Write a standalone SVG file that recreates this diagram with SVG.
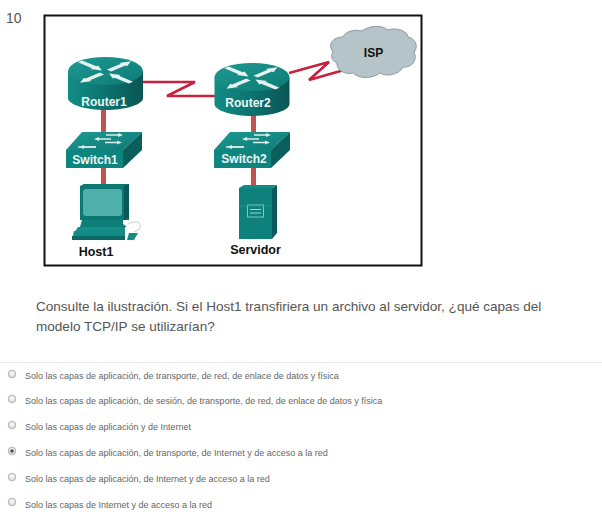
<svg xmlns="http://www.w3.org/2000/svg" width="602" height="526" viewBox="0 0 602 526">
<defs>
<linearGradient id="side" x1="0" x2="1" y1="0" y2="0"><stop offset="0" stop-color="#128d86"/><stop offset=".5" stop-color="#0c726e"/><stop offset="1" stop-color="#0a5654"/></linearGradient>
<linearGradient id="top" x1="0" x2="1" y1="0" y2="1"><stop offset="0" stop-color="#1c9a92"/><stop offset="1" stop-color="#0f7a75"/></linearGradient>
<radialGradient id="rad" cx=".5" cy=".4" r=".6"><stop offset="0" stop-color="#fff"/><stop offset="1" stop-color="#d0d0d0"/></radialGradient>
<path id="out" d="M5 -3H25V-5.500L36 0L25 5.500V3H5Z" fill="#e6f2f0"/>
<path id="in" d="M36 -3H16V-5.500L5 0L16 5.500V3H36Z" fill="#e6f2f0"/>
<path id="sa" d="M0 -.8H12V-2L17 0L12 2V.8H0Z" fill="#dcecea"/>
<g id="routerShape">
<path d="M-37.500 0V27C-37.500 33.500 -20 39 0 39S37.500 33.500 37.500 27V0Z" fill="url(#side)"/>
<ellipse cx="0" cy="0" rx="37.500" ry="14" fill="url(#top)"/>
<g transform="translate(0,1) scale(1,.42)">
<use href="#in" transform="rotate(225)"/>
<use href="#out" transform="rotate(315)"/>
<use href="#out" transform="rotate(135)"/>
<use href="#in" transform="rotate(45)"/>
</g></g>
<g id="switchShape">
<path d="M0 0 L16 -18 H76 L57 0Z" fill="url(#top)"/>
<path d="M57 0 L76 -18 V0 L57 18Z" fill="#0a5f5c"/>
<rect x="0" y="0" width="57" height="18" fill="#0f8580"/>
<use href="#sa" transform="translate(40,-15)"/>
<use href="#sa" transform="translate(45,-11) scale(-1,1)"/>
<use href="#sa" transform="translate(39,-7.500)"/>
<use href="#sa" transform="translate(30,-3) scale(-1,1)"/>
<path d="M12 -3H30" stroke="#dcecea" stroke-width="1.400"/>
</g>
</defs>
<style>
.lbl{font-family:"Liberation Sans",Arial,sans-serif;font-weight:700}
.w{fill:#eef7f6;font-size:12px;text-anchor:middle}
.k{fill:#111;font-size:12.500px;text-anchor:middle}
.opt{font-family:"Liberation Sans",Arial,sans-serif;font-size:9px;fill:#666}
.q{font-family:"Liberation Sans",Arial,sans-serif;font-size:13.550px;fill:#555}
.link{stroke:#bd5450;stroke-width:5;fill:none}
.wan{stroke:#c8203f;stroke-width:2.600;fill:none;stroke-linejoin:miter}
.rb{fill:url(#rad);stroke:#b5b5b5;stroke-width:1}
</style>
<rect width="602" height="526" fill="#fff"/>
<text x="6" y="23" font-family="'Liberation Sans',Arial,sans-serif" font-size="14" fill="#555">10</text>
<rect id="frame" x="44.500" y="15.500" width="377" height="250" fill="#fff" stroke="#111" stroke-width="2"/>
<g id="connectors">
<path class="link" d="M103.500 108V140M253.500 112V140M103.500 165V185M253.500 165V186"/>
<path class="wan" d="M143 82H195L167 96H215"/>
<path class="wan" d="M289 73L329 62L309 80L344 70"/>
</g>
<g id="router1"><use href="#routerShape" x="105.500" y="71"/><text class="lbl w" x="104" y="106">Router1</text></g>
<g id="router2"><use href="#routerShape" x="252" y="77"/><text class="lbl w" x="248" y="107">Router2</text></g>
<g id="isp"><path d="M333 52C327 44 333 37 343 37C345 31 356 29 362 31C370 25 382 25 388 30C396 27 408 31 408 37C417 39 418 48 414 52C418 60 412 68 403 67C399 75 386 77 380 73C372 79 359 79 353 73C345 75 336 70 337 63C332 61 330 56 333 52Z" fill="#b5c4c8" stroke="#8e9ea3"/><text class="lbl" x="373.500" y="56.500" font-size="12" fill="#111" text-anchor="middle">ISP</text></g>
<g id="switch1"><use href="#switchShape" x="66" y="150"/><text class="lbl w" x="95" y="163.500">Switch1</text></g>
<g id="switch2"><use href="#switchShape" x="214" y="150"/><text class="lbl w" x="244" y="162.500">Switch2</text></g>
<g id="host1">
<path d="M80 186L84 184H129V220H80Z" fill="#0c7773"/>
<path d="M124 186L129 184V218L124 220Z" fill="#085a58"/>
<rect x="83" y="189" width="39" height="27" rx="3" fill="#4fb0aa"/>
<path d="M82 220H123V224L127 227H80Z" fill="#0e7e79"/>
<path d="M78 227H125L125 233H74Z" fill="#149089"/>
<path d="M74 231H125L125 240H72Z" fill="#138a84"/>
<path d="M72 236H125V240H72Z" fill="#0b6a66"/>
<path d="M128 224C136 220 142 222 140 228C139 231 135 231 134 232" fill="none" stroke="#c6cfce" stroke-width="1"/>
<path d="M129 233H138L134 240H127Z" fill="#138a84"/>
<text class="lbl k" x="96" y="256">Host1</text>
</g>
<g id="servidor">
<path d="M239 188H272V239H239Z" fill="#0e817c"/>
<path d="M272 188L277 185V233L272 239Z" fill="#085a58"/>
<path d="M239 188L244 185H277L272 188Z" fill="#118c85"/>
<rect x="247.500" y="205" width="16" height="12" fill="none" stroke="#7fc8c2"/>
<path d="M250 209.500H261M250 213H261" stroke="#a0d8d2"/>
<path d="M239 206H272" stroke="#2a9a93" stroke-width=".7"/>
<text class="lbl k" x="255.500" y="254">Servidor</text>
</g>
<text class="q" x="36" y="311">Consulte la ilustración. Si el Host1 transfiriera un archivo al servidor, ¿qué capas del</text>
<text class="q" x="36" y="331">modelo TCP/IP se utilizarían?</text>
<path d="M0 362.500H602" stroke="#e8e8e8"/>
<g id="options">
<circle class="rb" cx="12" cy="374" r="3.800"/>
<circle class="rb" cx="12" cy="399" r="3.800"/>
<circle class="rb" cx="12" cy="425" r="3.800"/>
<circle class="rb" cx="12" cy="451" r="3.800"/><circle cx="12" cy="451" r="1.800" fill="#555"/>
<circle class="rb" cx="12" cy="477" r="3.800"/>
<circle class="rb" cx="12" cy="502" r="3.800"/>
<text class="opt" x="25" y="379">Solo las capas de aplicación, de transporte, de red, de enlace de datos y física</text>
<text class="opt" x="25" y="404">Solo las capas de aplicación, de sesión, de transporte, de red, de enlace de datos y física</text>
<text class="opt" x="25" y="430">Solo las capas de aplicación y de Internet</text>
<text class="opt" x="25" y="456">Solo las capas de aplicación, de transporte, de Internet y de acceso a la red</text>
<text class="opt" x="25" y="482">Solo las capas de aplicación, de Internet y de acceso a la red</text>
<text class="opt" x="25" y="508">Solo las capas de Internet y de acceso a la red</text>
</g>
</svg>
